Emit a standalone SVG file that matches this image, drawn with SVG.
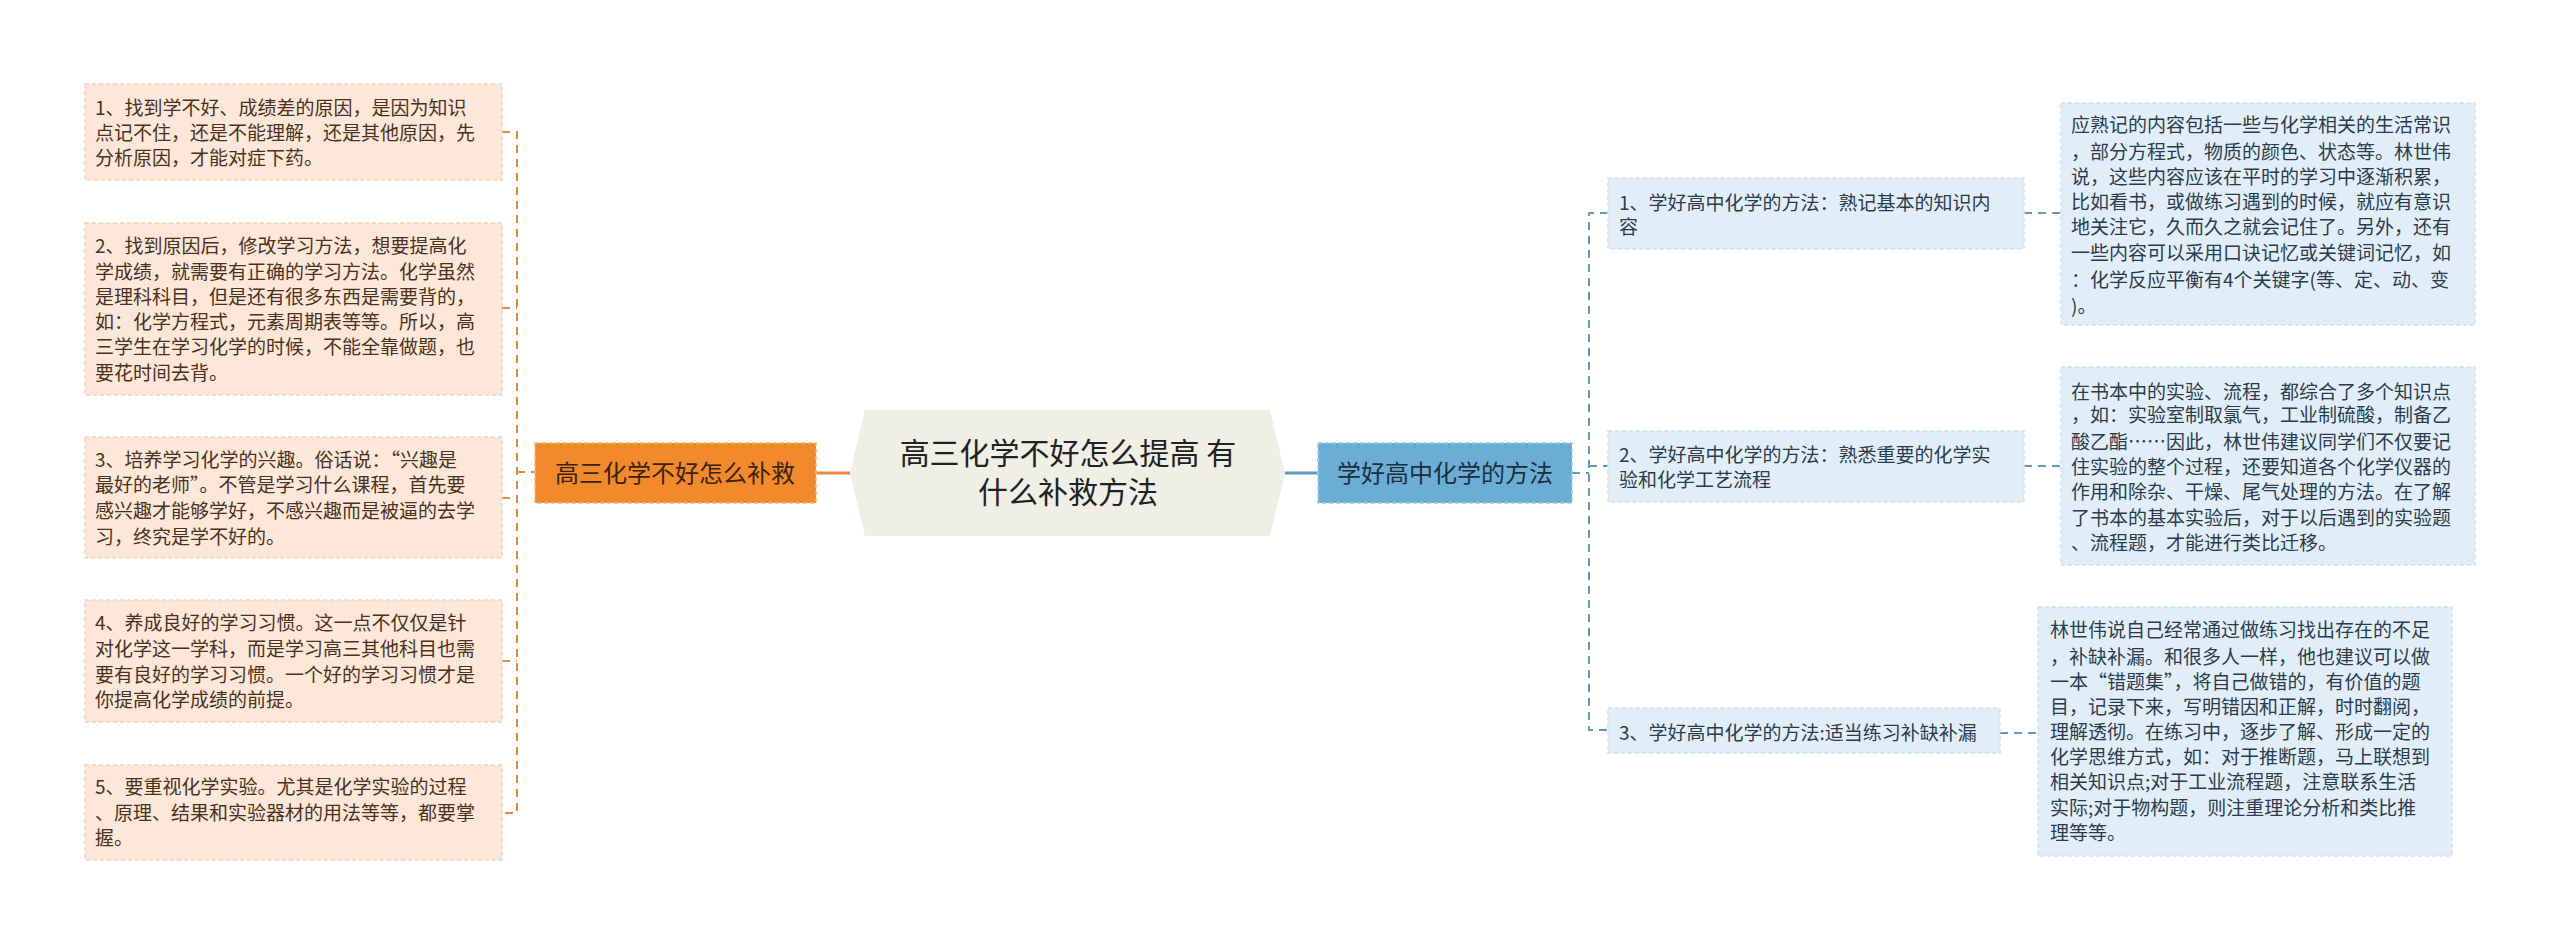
<svg xmlns="http://www.w3.org/2000/svg" width="2560" height="945" viewBox="0 0 2560 945">
<style>
text{font-family:"Noto Sans CJK SC","Liberation Sans",sans-serif;}
.lb{fill:#fde7d8;stroke:#f7d2b8;stroke-width:1.5;stroke-dasharray:4 3}
.lt{font-size:19px;fill:#4a3220}
.rb{fill:#e2eef7;stroke:#cfe1ee;stroke-width:1.5;stroke-dasharray:4 3}
.rt{font-size:19px;fill:#2a3c4c}
.co{fill:none;stroke:#e8893a;stroke-width:2;stroke-dasharray:8 6}
.cb{fill:none;stroke:#5e9bc0;stroke-width:2;stroke-dasharray:8 6}
</style>
<rect width="2560" height="945" fill="#fff"/>
<g id="connectors">
<path class="co" d="M502,132H517V813H502M502,308H517M502,498H517M502,661H517M517,472H535"/>
<path d="M816,473H850" stroke="#e8893a" stroke-width="3"/>
<path d="M1285,473H1318" stroke="#5e9bc0" stroke-width="3"/>
<path class="cb" d="M1572,473H1589M1608,213H1589V730H1608M1589,466H1608M2024,213H2061M2024,466H2061M2000,733H2038"/>
</g>
<g id="center">
<path d="M865,410H1270L1285,473L1270,536H865L850,473Z" fill="#efefe6"/>
<text x="1068" y="464" font-size="30" fill="#222" text-anchor="middle">高三化学不好怎么提高 有</text>
<text x="1068" y="503" font-size="30" fill="#222" text-anchor="middle">什么补救方法</text>
</g>
<g id="left-main">
<rect x="535" y="443" width="281" height="60" fill="#f28a2b" stroke="#f6b27a" stroke-width="1.5" stroke-dasharray="4 3"/>
<text x="675" y="482" font-size="24" fill="#3a2410" text-anchor="middle">高三化学不好怎么补救</text>
</g>
<g id="right-main">
<rect x="1318" y="443" width="254" height="60" fill="#6aaed6" stroke="#9ccbe6" stroke-width="1.5" stroke-dasharray="4 3"/>
<text x="1445" y="482" font-size="24" fill="#1e2e3c" text-anchor="middle">学好高中化学的方法</text>
</g>
<g id="l1"><rect class="lb" x="85" y="84" width="417" height="96"/>
<text class="lt" x="95"><tspan x="95" y="115">1、找到学不好、成绩差的原因，是因为知识</tspan><tspan x="95" y="140">点记不住，还是不能理解，还是其他原因，先</tspan><tspan x="95" y="165">分析原因，才能对症下药。</tspan></text></g>
<g id="l2"><rect class="lb" x="85" y="223" width="417" height="172"/>
<text class="lt"><tspan x="95" y="253">2、找到原因后，修改学习方法，想要提高化</tspan><tspan x="95" y="279">学成绩，就需要有正确的学习方法。化学虽然</tspan><tspan x="95" y="304">是理科科目，但是还有很多东西是需要背的，</tspan><tspan x="95" y="329">如：化学方程式，元素周期表等等。所以，高</tspan><tspan x="95" y="354">三学生在学习化学的时候，不能全靠做题，也</tspan><tspan x="95" y="380">要花时间去背。</tspan></text></g>
<g id="l3"><rect class="lb" x="85" y="437" width="417" height="121"/>
<text class="lt"><tspan x="95" y="467">3、培养学习化学的兴趣。俗话说：“兴趣是</tspan><tspan x="95" y="492">最好的老师”。不管是学习什么课程，首先要</tspan><tspan x="95" y="518">感兴趣才能够学好，不感兴趣而是被逼的去学</tspan><tspan x="95" y="544">习，终究是学不好的。</tspan></text></g>
<g id="l4"><rect class="lb" x="85" y="600" width="417" height="122"/>
<text class="lt"><tspan x="95" y="630">4、养成良好的学习习惯。这一点不仅仅是针</tspan><tspan x="95" y="656">对化学这一学科，而是学习高三其他科目也需</tspan><tspan x="95" y="682">要有良好的学习习惯。一个好的学习习惯才是</tspan><tspan x="95" y="707">你提高化学成绩的前提。</tspan></text></g>
<g id="l5"><rect class="lb" x="85" y="765" width="417" height="95"/>
<text class="lt"><tspan x="95" y="794">5、要重视化学实验。尤其是化学实验的过程</tspan><tspan x="95" y="820">、原理、结果和实验器材的用法等等，都要掌</tspan><tspan x="95" y="845">握。</tspan></text></g>
<g id="r1"><rect class="rb" x="1608" y="178" width="416" height="71"/>
<text class="rt"><tspan x="1619" y="210">1、学好高中化学的方法：熟记基本的知识内</tspan><tspan x="1619" y="234">容</tspan></text></g>
<g id="r2"><rect class="rb" x="1608" y="431" width="416" height="71"/>
<text class="rt"><tspan x="1619" y="462">2、学好高中化学的方法：熟悉重要的化学实</tspan><tspan x="1619" y="487">验和化学工艺流程</tspan></text></g>
<g id="r3"><rect class="rb" x="1608" y="708" width="392" height="45"/>
<text class="rt" x="1619" y="740">3、学好高中化学的方法:适当练习补缺补漏</text></g>
<g id="ra"><rect class="rb" x="2061" y="103" width="414" height="222"/>
<text class="rt"><tspan x="2071" y="132">应熟记的内容包括一些与化学相关的生活常识</tspan><tspan x="2071" y="159">，部分方程式，物质的颜色、状态等。林世伟</tspan><tspan x="2071" y="184">说，这些内容应该在平时的学习中逐渐积累，</tspan><tspan x="2071" y="209">比如看书，或做练习遇到的时候，就应有意识</tspan><tspan x="2071" y="234">地关注它，久而久之就会记住了。另外，还有</tspan><tspan x="2071" y="260">一些内容可以采用口诀记忆或关键词记忆，如</tspan><tspan x="2071" y="287">：化学反应平衡有4个关键字(等、定、动、变</tspan><tspan x="2071" y="313">)。</tspan></text></g>
<g id="rb"><rect class="rb" x="2061" y="367" width="414" height="198"/>
<text class="rt"><tspan x="2071" y="399">在书本中的实验、流程，都综合了多个知识点</tspan><tspan x="2071" y="422">，如：实验室制取氯气，工业制硫酸，制备乙</tspan><tspan x="2071" y="449">酸乙酯……因此，林世伟建议同学们不仅要记</tspan><tspan x="2071" y="474">住实验的整个过程，还要知道各个化学仪器的</tspan><tspan x="2071" y="499">作用和除杂、干燥、尾气处理的方法。在了解</tspan><tspan x="2071" y="525">了书本的基本实验后，对于以后遇到的实验题</tspan><tspan x="2071" y="550">、流程题，才能进行类比迁移。</tspan></text></g>
<g id="rc"><rect class="rb" x="2038" y="607" width="414" height="249"/>
<text class="rt"><tspan x="2050" y="637">林世伟说自己经常通过做练习找出存在的不足</tspan><tspan x="2050" y="664">，补缺补漏。和很多人一样，他也建议可以做</tspan><tspan x="2050" y="689">一本“错题集”，将自己做错的，有价值的题</tspan><tspan x="2050" y="714">目，记录下来，写明错因和正解，时时翻阅，</tspan><tspan x="2050" y="739">理解透彻。在练习中，逐步了解、形成一定的</tspan><tspan x="2050" y="764">化学思维方式，如：对于推断题，马上联想到</tspan><tspan x="2050" y="789">相关知识点;对于工业流程题，注意联系生活</tspan><tspan x="2050" y="815">实际;对于物构题，则注重理论分析和类比推</tspan><tspan x="2050" y="840">理等等。</tspan></text></g>
</svg>
